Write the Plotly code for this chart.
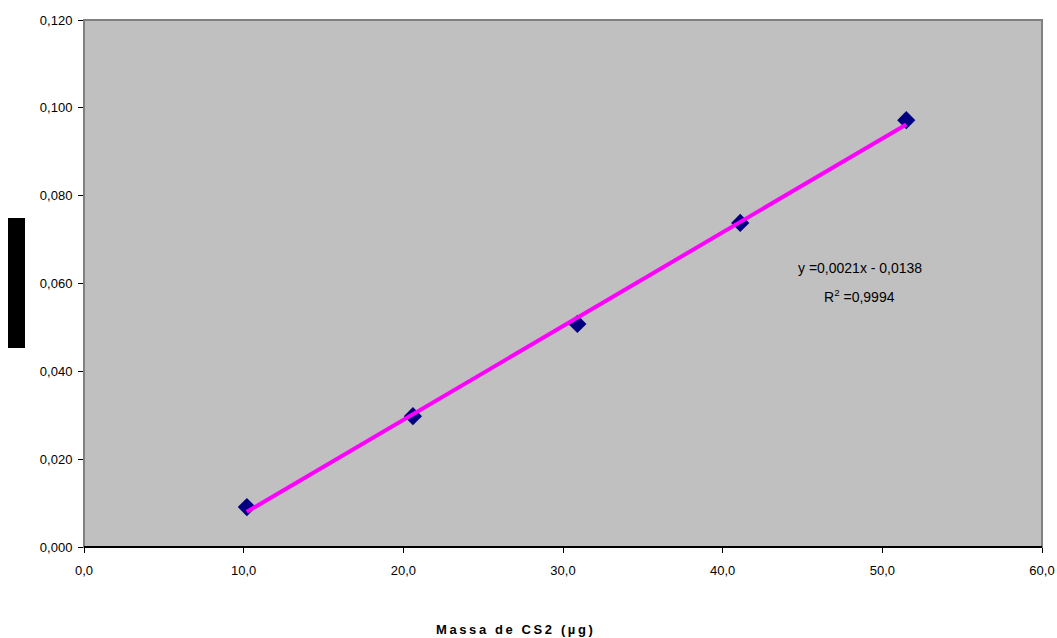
import numpy as np
import plotly.graph_objects as go

massa = [10.2, 20.6, 30.9, 41.1, 51.5]
absorb = [0.0091, 0.0298, 0.0508, 0.0738, 0.0972]
x_ticks = [0, 10, 20, 30, 40, 50, 60]
y_ticks = [0, 0.02, 0.04, 0.06, 0.08, 0.10, 0.12]
eq_line1 = "y =0,0021x - 0,0138"
eq_line2 = "R<sup>2</sup> =0,9994"
x_title = "Massa de CS2 (µg)"

slope, intercept = np.polyfit(massa, absorb, 1)
fit_x = [massa[0], massa[-1]]
fit_y = [slope * v + intercept for v in fit_x]

FONT = "Liberation Sans, Arial, sans-serif"

fig = go.Figure()
fig.add_trace(go.Scatter(x=massa, y=absorb, mode="markers",
                         marker=dict(symbol="diamond", size=14, color="#000080",
                                     line=dict(width=0)),
                         showlegend=False))
fig.add_trace(go.Scatter(x=fit_x, y=fit_y, mode="lines",
                         line=dict(color="#FF00FF", width=4),
                         showlegend=False))

spaced_title = "\u2009".join(list(x_title))

fig.update_layout(
    width=1057, height=638,
    margin=dict(l=84, r=15, t=20, b=91, autoexpand=False),
    paper_bgcolor="white", plot_bgcolor="#C0C0C0",
    separators=",.",
    font=dict(family=FONT, size=13, color="black"),
    xaxis=dict(range=[0, 60], tickvals=x_ticks, tickformat=".1f",
               showgrid=False, zeroline=False, showline=True, linecolor="black",
               linewidth=1, ticks="outside", ticklen=5, tickcolor="black",
               automargin=False, tickfont=dict(size=13), ticklabelstandoff=6),
    yaxis=dict(range=[0, 0.12], tickvals=y_ticks, tickformat=".3f",
               showgrid=False, zeroline=False, showline=False,
               ticks="outside", ticklen=5, tickcolor="black", automargin=False,
               tickfont=dict(size=13), ticklabelstandoff=3),
    shapes=[
        dict(type="rect", xref="paper", yref="paper", x0=0, y0=0, x1=1, y1=1,
             line=dict(color="#808080", width=2), layer="above"),
        dict(type="line", xref="paper", yref="paper", x0=0, y0=0, x1=1, y1=0,
             line=dict(color="black", width=2), layer="above"),
        dict(type="rect", xref="paper", yref="paper",
             x0=(8 - 84) / 958, x1=(25 - 84) / 958,
             y0=(547 - 348) / 527, y1=(547 - 218) / 527,
             fillcolor="black", line=dict(width=0)),
    ],
    annotations=[
        dict(x=48.6, y=0.0635, xref="x", yref="y", text=eq_line1,
             showarrow=False, font=dict(family=FONT, size=14)),
        dict(x=48.6, y=0.0571, xref="x", yref="y", text=eq_line2,
             showarrow=False, font=dict(family=FONT, size=14)),
        dict(x=(514 - 84) / 958, y=-(629 - 547) / 527, xref="paper", yref="paper",
             yanchor="middle", xanchor="center",
             text="<b>" + spaced_title + "</b>", showarrow=False,
             font=dict(family=FONT, size=13)),
    ],
)

fig.write_html("out.html")
